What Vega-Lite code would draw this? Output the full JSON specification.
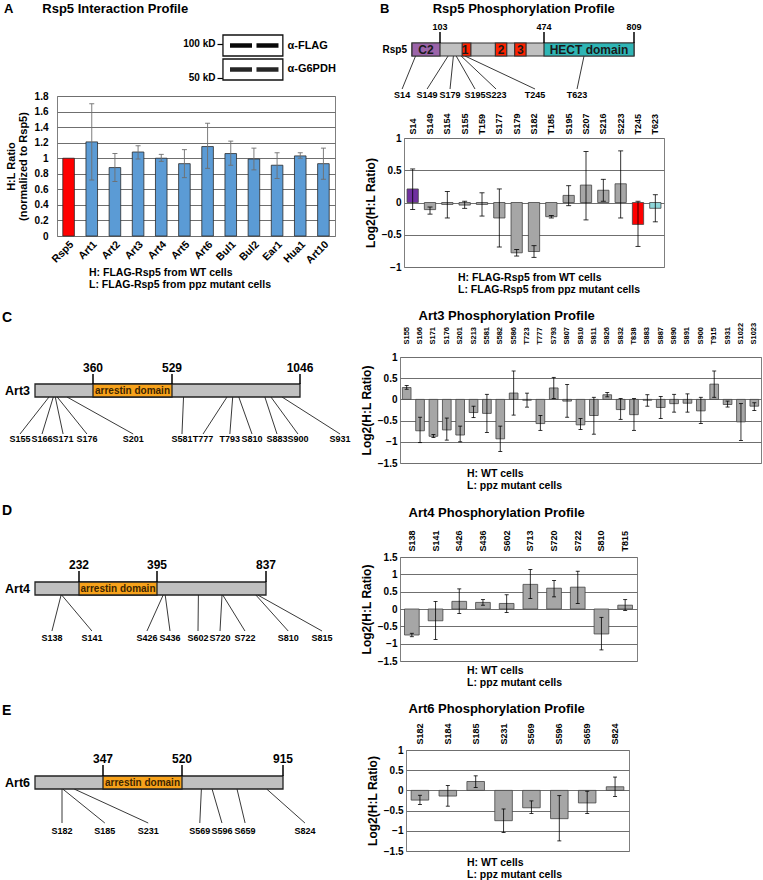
{
"$schema": "https://vega.github.io/schema/vega-lite/v6.json",
"background": "white",
"padding": {"left": 2, "top": 3, "right": 0, "bottom": 0},
"spacing": 12,
"datasets": {
"interaction": [
{"protein":"Rsp5","ratio":1.0},
{"protein":"Art1","ratio":1.21,"lo":0.72,"hi":1.70},
{"protein":"Art2","ratio":0.88,"lo":0.70,"hi":1.06},
{"protein":"Art3","ratio":1.08,"lo":0.99,"hi":1.16},
{"protein":"Art4","ratio":1.00,"lo":0.96,"hi":1.05},
{"protein":"Art5","ratio":0.93,"lo":0.75,"hi":1.11},
{"protein":"Art6","ratio":1.15,"lo":0.87,"hi":1.45},
{"protein":"Bul1","ratio":1.06,"lo":0.91,"hi":1.22},
{"protein":"Bul2","ratio":0.99,"lo":0.85,"hi":1.13},
{"protein":"Ear1","ratio":0.91,"lo":0.74,"hi":1.07},
{"protein":"Hua1","ratio":1.03,"lo":1.00,"hi":1.07},
{"protein":"Art10","ratio":0.93,"lo":0.73,"hi":1.13}
],
"blot": [
{"lane":"WT","lane_no":1,"antibody":"α-FLAG"},
{"lane":"ppz","lane_no":2,"antibody":"α-FLAG"},
{"lane":"WT","lane_no":1,"antibody":"α-G6PDH"},
{"lane":"ppz","lane_no":2,"antibody":"α-G6PDH"}
],
"markers": [{"kD":100},{"kD":50}],
"rsp5_domains": [
{"name":"Rsp5","start":1,"end":809,"kind":"protein"},
{"name":"C2","start":1,"end":103,"kind":"C2"},
{"name":"1","start":229,"end":262,"kind":"WW"},
{"name":"2","start":333,"end":366,"kind":"WW"},
{"name":"3","start":389,"end":422,"kind":"WW"},
{"name":"HECT domain","start":474,"end":809,"kind":"HECT"}
],
"rsp5_ticks": [{"aa":103},{"aa":474},{"aa":809}],
"rsp5_sites": [
{"site":"S14","aa":14,"label_at":-35},
{"site":"S149","aa":149,"label_at":56},
{"site":"S179","aa":179,"label_at":160},
{"site":"S195","aa":195,"label_at":274},
{"site":"S223","aa":223,"label_at":335},
{"site":"T245","aa":245,"label_at":448},
{"site":"T623","aa":623,"label_at":597}
],
"rsp5_phos": [
{"site":"S14","log2":0.21,"lo":-0.11,"hi":0.52,"region":"C2"},
{"site":"S149","log2":-0.11,"lo":-0.18,"hi":-0.07,"region":"linker"},
{"site":"S154","log2":-0.03,"lo":-0.24,"hi":0.17,"region":"linker"},
{"site":"S155","log2":-0.04,"lo":-0.09,"hi":0.02,"region":"linker"},
{"site":"T159","log2":-0.03,"lo":-0.21,"hi":0.15,"region":"linker"},
{"site":"S177","log2":-0.24,"lo":-0.69,"hi":0.21,"region":"linker"},
{"site":"S179","log2":-0.78,"lo":-0.83,"hi":-0.73,"region":"linker"},
{"site":"S182","log2":-0.76,"lo":-0.85,"hi":-0.67,"region":"linker"},
{"site":"T185","log2":-0.22,"lo":-0.24,"hi":-0.20,"region":"linker"},
{"site":"S195","log2":0.11,"lo":-0.05,"hi":0.26,"region":"linker"},
{"site":"S207","log2":0.27,"lo":-0.27,"hi":0.79,"region":"linker"},
{"site":"S216","log2":0.19,"lo":0.02,"hi":0.36,"region":"linker"},
{"site":"S223","log2":0.29,"lo":-0.24,"hi":0.80,"region":"linker"},
{"site":"T245","log2":-0.34,"lo":-0.68,"hi":0.02,"region":"WW"},
{"site":"T623","log2":-0.09,"lo":-0.30,"hi":0.12,"region":"HECT"}
],
"art3_domains": [
{"name":"Art3","start":1,"end":1046,"kind":"protein"},
{"name":"arrestin domain","start":360,"end":529,"kind":"arrestin"}
],
"art3_ticks": [{"aa":360},{"aa":529},{"aa":1046}],
"art3_sites": [
{"site":"S155","aa":155,"label_at":-164},
{"site":"S166","aa":166,"label_at":78},
{"site":"S171","aa":171,"label_at":191},
{"site":"S176","aa":176,"label_at":323},
{"site":"S201","aa":201,"label_at":446},
{"site":"S581","aa":581,"label_at":574},
{"site":"T777","aa":777,"label_at":669},
{"site":"T793","aa":793,"label_at":785},
{"site":"S810","aa":810,"label_at":847},
{"site":"S883","aa":883,"label_at":917},
{"site":"S900","aa":900,"label_at":1033},
{"site":"S931","aa":931,"label_at":1302}
],
"art3_phos": [
{"site":"S155","log2":0.28,"lo":0.24,"hi":0.33},
{"site":"S166","log2":-0.74,"lo":-1.02,"hi":-0.42},
{"site":"S171","log2":-0.87,"lo":-0.90,"hi":-0.83},
{"site":"S176","log2":-0.72,"lo":-0.96,"hi":-0.44},
{"site":"S201","log2":-0.84,"lo":-1.00,"hi":-0.63},
{"site":"S213","log2":-0.31,"lo":-0.43,"hi":-0.16},
{"site":"S581","log2":-0.33,"lo":-0.78,"hi":0.12},
{"site":"S582","log2":-0.93,"lo":-1.23,"hi":-0.63},
{"site":"S586","log2":0.15,"lo":-0.37,"hi":0.67},
{"site":"T723","log2":-0.02,"lo":-0.18,"hi":0.15},
{"site":"T777","log2":-0.57,"lo":-0.73,"hi":-0.38},
{"site":"S793","log2":0.27,"lo":0.02,"hi":0.52},
{"site":"S807","log2":-0.04,"lo":-0.42,"hi":0.35},
{"site":"S810","log2":-0.60,"lo":-0.71,"hi":-0.45},
{"site":"S811","log2":-0.38,"lo":-0.82,"hi":0.05},
{"site":"S826","log2":0.11,"lo":0.06,"hi":0.16},
{"site":"S832","log2":-0.24,"lo":-0.47,"hi":0.02},
{"site":"T838","log2":-0.36,"lo":-0.73,"hi":0.02},
{"site":"S883","log2":-0.02,"lo":-0.16,"hi":0.11},
{"site":"S887","log2":-0.19,"lo":-0.45,"hi":0.07},
{"site":"S890","log2":-0.10,"lo":-0.30,"hi":0.12},
{"site":"S891","log2":-0.09,"lo":-0.30,"hi":0.13},
{"site":"S900","log2":-0.27,"lo":-0.57,"hi":0.05},
{"site":"T915","log2":0.36,"lo":0.05,"hi":0.67},
{"site":"S931","log2":-0.12,"lo":-0.18,"hi":-0.04},
{"site":"S1022","log2":-0.53,"lo":-0.97,"hi":-0.10},
{"site":"S1023","log2":-0.16,"lo":-0.26,"hi":-0.08}
],
"art4_domains": [
{"name":"Art4","start":1,"end":837,"kind":"protein"},
{"name":"arrestin domain","start":232,"end":395,"kind":"arrestin"}
],
"art4_ticks": [{"aa":232},{"aa":395},{"aa":837}],
"art4_sites": [
{"site":"S138","aa":138,"label_at":90},
{"site":"S141","aa":141,"label_at":259},
{"site":"S426","aa":426,"label_at":374},
{"site":"S436","aa":436,"label_at":460},
{"site":"S602","aa":602,"label_at":600},
{"site":"S720","aa":720,"label_at":710},
{"site":"S722","aa":722,"label_at":781},
{"site":"S810","aa":810,"label_at":896},
{"site":"S815","aa":815,"label_at":986}
],
"art4_phos": [
{"site":"S138","log2":-0.75,"lo":-0.80,"hi":-0.70},
{"site":"S141","log2":-0.34,"lo":-0.88,"hi":0.22},
{"site":"S426","log2":0.22,"lo":-0.13,"hi":0.58},
{"site":"S436","log2":0.19,"lo":0.11,"hi":0.27},
{"site":"S602","log2":0.16,"lo":-0.10,"hi":0.41},
{"site":"S713","log2":0.71,"lo":0.30,"hi":1.14},
{"site":"S720","log2":0.60,"lo":0.35,"hi":0.82},
{"site":"S722","log2":0.63,"lo":0.16,"hi":1.09},
{"site":"S810","log2":-0.72,"lo":-1.18,"hi":-0.24},
{"site":"T815","log2":0.11,"lo":-0.04,"hi":0.27}
],
"art6_domains": [
{"name":"Art6","start":1,"end":915,"kind":"protein"},
{"name":"arrestin domain","start":347,"end":520,"kind":"arrestin"}
],
"art6_ticks": [{"aa":347},{"aa":520},{"aa":915}],
"art6_sites": [
{"site":"S182","aa":182,"label_at":182},
{"site":"S185","aa":185,"label_at":351},
{"site":"S231","aa":231,"label_at":446},
{"site":"S569","aa":569,"label_at":565},
{"site":"S596","aa":596,"label_at":621},
{"site":"S659","aa":659,"label_at":704},
{"site":"S824","aa":824,"label_at":1037}
],
"art6_phos": [
{"site":"S182","log2":-0.24,"lo":-0.35,"hi":-0.12},
{"site":"S184","log2":-0.14,"lo":-0.39,"hi":0.12},
{"site":"S185","log2":0.22,"lo":0.07,"hi":0.36},
{"site":"S231","log2":-0.75,"lo":-1.04,"hi":-0.46},
{"site":"S569","log2":-0.43,"lo":-0.57,"hi":-0.26},
{"site":"S596","log2":-0.70,"lo":-1.25,"hi":-0.13},
{"site":"S659","log2":-0.31,"lo":-0.57,"hi":-0.02},
{"site":"S824","log2":0.09,"lo":-0.15,"hi":0.33}
]
},
"vconcat": [
{"hconcat": [
 {"vconcat": [
  {"width": 278, "height": 70,
   "view": {"stroke": null},
   "title": {"text": "A\u00a0\u00a0\u00a0\u00a0\u00a0\u00a0\u00a0\u00a0Rsp5 Interaction Profile", "anchor": "start", "frame": "group", "dx": -53, "fontSize": 13, "offset": 4},
   "resolve": {"scale": {"y": "independent"}, "axis": {"y": "independent"}},
   "layer": [
    {"data": {"name": "blot"}, "transform": [{"filter": "datum.lane_no == 1"}],
     "mark": {"type": "rect", "fill": "white", "stroke": "#111", "strokeWidth": 1.3},
     "encoding": {
      "x": {"datum": 0.32, "type": "quantitative", "scale": {"domain": [-5.943, 4.548], "nice": false, "zero": false}, "axis": null},
      "x2": {"datum": 2.58},
      "y": {"field": "antibody", "type": "nominal", "sort": null, "scale": {"domain": ["α-FLAG","α-G6PDH"], "paddingInner": 0.125, "paddingOuter": 0.521, "align": 0.6}, "axis": {"orient": "right", "offset": -52, "labelPadding": 4, "labelFontSize": 11, "title": null, "grid": false}}}},
    {"data": {"name": "blot"},
     "mark": {"type": "tick", "orient": "horizontal", "size": 22, "thickness": 4.5, "opacity": 1},
     "encoding": {
      "x": {"field": "lane_no", "type": "quantitative", "scale": {"domain": [-5.943, 4.548], "nice": false, "zero": false}, "axis": {"orient": "top", "values": [1, 2], "labelExpr": "datum.value == 1 ? 'WT' : 'ppz'", "labelFontStyle": {"condition": {"test": "datum.value == 2", "value": "italic"}, "value": "normal"}, "labelFontSize": 13, "labelPadding": 2, "offset": -15, "grid": false, "title": null}},
      "y": {"field": "antibody", "type": "nominal", "sort": null, "scale": {"domain": ["α-FLAG","α-G6PDH"], "paddingInner": 0.125, "paddingOuter": 0.521, "align": 0.6}, "axis": null},
      "color": {"condition": {"test": "datum.antibody == 'α-FLAG'", "value": "#080808"}, "value": "#262626"}}},
    {"data": {"name": "markers"},
     "mark": {"type": "point", "opacity": 0},
     "encoding": {
      "y": {"field": "kD", "type": "quantitative", "scale": {"type": "log", "domain": [39.14, 163.1], "nice": false}, "axis": {"orient": "left", "offset": -166, "values": [100, 50], "labelExpr": "datum.value + ' kD'", "ticks": true, "tickSize": 6, "tickColor": "#000", "tickWidth": 1.2, "labelFontSize": 10, "labelPadding": 2, "grid": false, "title": null}}}}
   ]},
  {"width": 278, "height": 140,
   "data": {"name": "interaction"},
   "title": {"text": ["H: FLAG-Rsp5 from WT cells", "L: FLAG-Rsp5 from ppz mutant cells"], "orient": "bottom", "anchor": "start", "frame": "group", "dx": 32, "fontSize": 10.5, "lineHeight": 12, "offset": 3},
   "encoding": {"x": {"field": "protein", "type": "nominal", "sort": null, "scale": {"paddingInner": 0.5}, "axis": {"labelAngle": -45, "labelFontSize": 10.5, "labelPadding": 3, "title": null}}},
   "layer": [
    {"mark": {"type": "bar", "stroke": "#2b2b2b", "strokeWidth": 0.8},
     "encoding": {
      "y": {"field": "ratio", "type": "quantitative", "scale": {"domain": [0, 1.8], "nice": false, "zero": false}, "axis": {"values": [0,0.2,0.4,0.6,0.8,1,1.2,1.4,1.6,1.8], "format": ".1~f", "labelOverlap": false, "grid": true, "labelFontSize": 10, "labelPadding": 9, "title": ["H:L Ratio", "(normalized to Rsp5)"], "titleFontSize": 11, "titleLineHeight": 12, "titlePadding": 6}},
      "color": {"condition": {"test": "datum.protein == 'Rsp5'", "value": "#ff0000"}, "value": "#5b9bd5"}}},
    {"mark": {"type": "rule", "color": "#6e6e6e", "strokeWidth": 0.9},
     "encoding": {"y": {"field": "lo", "type": "quantitative", "scale": {"domain": [0, 1.8], "nice": false, "zero": false}, "axis": {"values": [0,0.2,0.4,0.6,0.8,1,1.2,1.4,1.6,1.8], "format": ".1~f", "labelOverlap": false, "grid": true, "labelFontSize": 10, "labelPadding": 9, "title": ["H:L Ratio", "(normalized to Rsp5)"], "titleFontSize": 11, "titleLineHeight": 12, "titlePadding": 6}}, "y2": {"field": "hi"}}},
    {"mark": {"type": "tick", "orient": "horizontal", "color": "#6e6e6e", "thickness": 0.9, "size": 5, "opacity": 1},
     "encoding": {"y": {"field": "lo", "type": "quantitative", "scale": {"domain": [0, 1.8], "nice": false, "zero": false}, "axis": {"values": [0,0.2,0.4,0.6,0.8,1,1.2,1.4,1.6,1.8], "format": ".1~f", "labelOverlap": false, "grid": true, "labelFontSize": 10, "labelPadding": 9, "title": ["H:L Ratio", "(normalized to Rsp5)"], "titleFontSize": 11, "titleLineHeight": 12, "titlePadding": 6}}}},
    {"mark": {"type": "tick", "orient": "horizontal", "color": "#6e6e6e", "thickness": 0.9, "size": 5, "opacity": 1},
     "encoding": {"y": {"field": "hi", "type": "quantitative", "scale": {"domain": [0, 1.8], "nice": false, "zero": false}, "axis": {"values": [0,0.2,0.4,0.6,0.8,1,1.2,1.4,1.6,1.8], "format": ".1~f", "labelOverlap": false, "grid": true, "labelFontSize": 10, "labelPadding": 9, "title": ["H:L Ratio", "(normalized to Rsp5)"], "titleFontSize": 11, "titleLineHeight": 12, "titlePadding": 6}}}}
   ]}
 ], "spacing": 0},
 {"vconcat": [
  {"width": 260, "height": 92,
   "view": {"stroke": null},
   "title": {"text": "B\u00a0\u00a0\u00a0\u00a0\u00a0\u00a0\u00a0\u00a0\u00a0\u00a0\u00a0\u00a0Rsp5 Phosphorylation Profile", "anchor": "start", "frame": "group", "dx": -24, "fontSize": 13, "offset": 4},
   "layer": [
    {"data": {"name": "rsp5_sites"}, "mark": {"type": "rule", "color": "#222", "strokeWidth": 0.9},
     "encoding": {
      "x": {"field": "aa", "type": "quantitative", "scale": {"domain": [1,103,245,474,809], "range": [8,36,61,140,230], "nice": false, "zero": false}, "axis": null},
      "x2": {"field": "label_at"},
      "y": {"datum": 36, "type": "quantitative", "scale": {"domain": [0, 92], "range": [0, 92], "nice": false, "zero": false}, "axis": null},
      "y2": {"datum": 69}}},
    {"data": {"name": "rsp5_sites"}, "mark": {"type": "text", "fontSize": 9, "fontWeight": "bold", "color": "#000"},
     "encoding": {"x": {"field": "label_at", "type": "quantitative"}, "y": {"datum": 75, "type": "quantitative"}, "text": {"field": "site"}}},
    {"data": {"name": "rsp5_domains"}, "mark": {"type": "rect", "stroke": "#333", "strokeWidth": 1.2},
     "encoding": {"x": {"field": "start", "type": "quantitative"}, "x2": {"field": "end"}, "y": {"datum": 23, "type": "quantitative"}, "y2": {"datum": 36},
      "fill": {"condition": [{"test": "datum.kind == 'C2'", "value": "#9b64a9"}, {"test": "datum.kind == 'WW'", "value": "#ff2200"}, {"test": "datum.kind == 'HECT'", "value": "#2fb5b5"}], "value": "#c0c0c0"}}},
    {"data": {"name": "rsp5_domains"}, "transform": [{"filter": "datum.kind != 'protein'"}, {"fold": ["start","end"], "as": ["edge","pos"]}],
     "mark": {"type": "text", "fontSize": 12, "fontWeight": "bold", "color": "#1a1a1a"},
     "encoding": {"x": {"field": "pos", "aggregate": "mean", "type": "quantitative"}, "y": {"datum": 29.5, "type": "quantitative"}, "text": {"field": "name"}}},
    {"data": {"name": "rsp5_domains"}, "transform": [{"filter": "datum.kind == 'protein'"}],
     "mark": {"type": "text", "align": "right", "dx": -5, "fontSize": 10, "fontWeight": "bold", "color": "#000"},
     "encoding": {"x": {"field": "start", "type": "quantitative"}, "y": {"datum": 29.5, "type": "quantitative"}, "text": {"field": "name"}}},
    {"data": {"name": "rsp5_ticks"}, "mark": {"type": "rule", "color": "#000", "strokeWidth": 1.5},
     "encoding": {"x": {"field": "aa", "type": "quantitative"}, "y": {"datum": 12, "type": "quantitative"}, "y2": {"datum": 23}}},
    {"data": {"name": "rsp5_ticks"}, "mark": {"type": "text", "fontSize": 9, "fontWeight": "bold", "color": "#000"},
     "encoding": {"x": {"field": "aa", "type": "quantitative"}, "y": {"datum": 7, "type": "quantitative"}, "text": {"field": "aa", "type": "nominal"}}}
   ]},
  {"width": 260, "height": 129,
   "data": {"name": "rsp5_phos"},
   "title": {"text": ["H: FLAG-Rsp5 from WT cells", "L: FLAG-Rsp5 from ppz mutant cells"], "orient": "bottom", "anchor": "start", "frame": "group", "dx": 54, "fontSize": 10.5, "lineHeight": 12, "offset": 1},
   "encoding": {"x": {"field": "site", "type": "nominal", "sort": null, "scale": {"paddingInner": 0.35}, "axis": {"orient": "top", "labelAngle": -90, "labelFontSize": 9, "labelPadding": 4, "title": null}}},
   "layer": [
    {"mark": {"type": "bar", "stroke": "#444", "strokeWidth": 0.8},
     "encoding": {
      "y": {"field": "log2", "type": "quantitative", "scale": {"domain": [-1, 1], "nice": false, "zero": false}, "axis": {"values": [-1,-0.5,0,0.5,1], "format": ".1~f", "labelOverlap": false, "grid": true, "labelFontSize": 10, "labelPadding": 3, "title": "Log2(H:L Ratio)", "titleFontSize": 12, "titlePadding": 4}},
      "fill": {"condition": [{"test": "datum.region == 'C2'", "value": "#7030a0"}, {"test": "datum.region == 'WW'", "value": "#ff0000"}, {"test": "datum.region == 'HECT'", "value": "#8ed6da"}], "value": "#a6a6a6"}}},
    {"mark": {"type": "rule", "color": "#000", "strokeWidth": 0.8},
     "encoding": {"y": {"field": "lo", "type": "quantitative", "scale": {"domain": [-1, 1], "nice": false, "zero": false}, "axis": {"values": [-1,-0.5,0,0.5,1], "format": ".1~f", "labelOverlap": false, "grid": true, "labelFontSize": 10, "labelPadding": 3, "title": "Log2(H:L Ratio)", "titleFontSize": 12, "titlePadding": 4}}, "y2": {"field": "hi"}}},
    {"mark": {"type": "tick", "orient": "horizontal", "color": "#000", "thickness": 0.8, "size": 5, "opacity": 1},
     "encoding": {"y": {"field": "lo", "type": "quantitative", "scale": {"domain": [-1, 1], "nice": false, "zero": false}, "axis": {"values": [-1,-0.5,0,0.5,1], "format": ".1~f", "labelOverlap": false, "grid": true, "labelFontSize": 10, "labelPadding": 3, "title": "Log2(H:L Ratio)", "titleFontSize": 12, "titlePadding": 4}}}},
    {"mark": {"type": "tick", "orient": "horizontal", "color": "#000", "thickness": 0.8, "size": 5, "opacity": 1},
     "encoding": {"y": {"field": "hi", "type": "quantitative", "scale": {"domain": [-1, 1], "nice": false, "zero": false}, "axis": {"values": [-1,-0.5,0,0.5,1], "format": ".1~f", "labelOverlap": false, "grid": true, "labelFontSize": 10, "labelPadding": 3, "title": "Log2(H:L Ratio)", "titleFontSize": 12, "titlePadding": 4}}}}
   ]}
 ], "spacing": 0}
], "spacing": 27},
{"hconcat": [
 {"width": 302, "height": 133,
  "view": {"stroke": null},
  "layer": [
   {"data": {"name": "art3_sites"}, "mark": {"type": "rule", "color": "#222", "strokeWidth": 0.9},
    "encoding": {
     "x": {"field": "aa", "type": "quantitative", "scale": {"domain": [1,155,201,360,529,777,931,1046], "range": [-22,-8,10,36,115,170,225,243], "nice": false, "zero": false}, "axis": null},
     "x2": {"field": "label_at"},
     "y": {"datum": 40, "type": "quantitative", "scale": {"domain": [0, 133], "range": [0, 133], "nice": false, "zero": false}, "axis": null},
     "y2": {"datum": 77}}},
   {"data": {"name": "art3_sites"}, "mark": {"type": "text", "fontSize": 9, "fontWeight": "bold", "color": "#000"},
    "encoding": {"x": {"field": "label_at", "type": "quantitative"}, "y": {"datum": 82, "type": "quantitative"}, "text": {"field": "site"}}},
   {"data": {"name": "art3_domains"}, "mark": {"type": "rect", "stroke": "#222", "strokeWidth": 1.3},
    "encoding": {"x": {"field": "start", "type": "quantitative"}, "x2": {"field": "end"}, "y": {"datum": 27, "type": "quantitative"}, "y2": {"datum": 40},
     "fill": {"condition": {"test": "datum.kind == 'arrestin'", "value": "#f7a21b"}, "value": "#c0c0c0"}}},
   {"data": {"name": "art3_domains"}, "transform": [{"filter": "datum.kind == 'arrestin'"}, {"fold": ["start","end"], "as": ["edge","pos"]}],
    "mark": {"type": "text", "fontSize": 10, "fontWeight": "bold", "color": "#3d2500"},
    "encoding": {"x": {"field": "pos", "aggregate": "mean", "type": "quantitative"}, "y": {"datum": 33.5, "type": "quantitative"}, "text": {"field": "name"}}},
   {"data": {"name": "art3_domains"}, "transform": [{"filter": "datum.kind == 'protein'"}],
    "mark": {"type": "text", "align": "right", "dx": -5, "fontSize": 12.5, "fontWeight": "bold", "color": "#000"},
    "encoding": {"x": {"field": "start", "type": "quantitative"}, "y": {"datum": 33.5, "type": "quantitative"}, "text": {"field": "name"}}},
   {"data": {"name": "art3_domains"}, "transform": [{"filter": "datum.kind == 'protein'"}],
    "mark": {"type": "text", "align": "left", "dx": -33, "fontSize": 14, "fontWeight": "bold", "color": "#000"},
    "encoding": {"x": {"field": "start", "type": "quantitative"}, "y": {"datum": -39, "type": "quantitative"}, "text": {"value": "C"}}},
   {"data": {"name": "art3_ticks"}, "mark": {"type": "rule", "color": "#000", "strokeWidth": 1.5},
    "encoding": {"x": {"field": "aa", "type": "quantitative"}, "y": {"datum": 17, "type": "quantitative"}, "y2": {"datum": 27}}},
   {"data": {"name": "art3_ticks"}, "mark": {"type": "text", "fontSize": 12, "fontWeight": "bold", "color": "#000"},
    "encoding": {"x": {"field": "aa", "type": "quantitative"}, "y": {"datum": 11, "type": "quantitative"}, "text": {"field": "aa", "type": "nominal"}}}
  ]},
 {"width": 361, "height": 106,
  "data": {"name": "art3_phos"},
  "title": {"text": ["H: WT cells", "L: ppz mutant cells"], "orient": "bottom", "anchor": "start", "frame": "group", "dx": 67, "fontSize": 10.5, "lineHeight": 12, "offset": 1},
  "encoding": {"x": {"field": "site", "type": "nominal", "sort": null, "scale": {"paddingInner": 0.35}, "axis": {"orient": "top", "labelAngle": -90, "labelFontSize": 7.5, "labelPadding": 13, "title": "Art3 Phosphorylation Profile", "titleFontSize": 13, "titleAnchor": "start", "titleAlign": "left", "titleX": 18, "titlePadding": 0}}},
  "layer": [
   {"mark": {"type": "bar", "fill": "#a6a6a6", "stroke": "#444", "strokeWidth": 0.8},
    "encoding": {"y": {"field": "log2", "type": "quantitative", "scale": {"domain": [-1.5, 1], "nice": false, "zero": false}, "axis": {"values": [-1.5,-1,-0.5,0,0.5,1], "format": ".1~f", "labelOverlap": false, "grid": true, "labelFontSize": 10, "labelPadding": 3, "title": "Log2(H:L Ratio)", "titleFontSize": 12, "titlePadding": 4}}}},
   {"mark": {"type": "rule", "color": "#000", "strokeWidth": 0.8},
    "encoding": {"y": {"field": "lo", "type": "quantitative", "scale": {"domain": [-1.5, 1], "nice": false, "zero": false}, "axis": {"values": [-1.5,-1,-0.5,0,0.5,1], "format": ".1~f", "labelOverlap": false, "grid": true, "labelFontSize": 10, "labelPadding": 3, "title": "Log2(H:L Ratio)", "titleFontSize": 12, "titlePadding": 4}}, "y2": {"field": "hi"}}},
   {"mark": {"type": "tick", "orient": "horizontal", "color": "#000", "thickness": 0.8, "size": 4, "opacity": 1},
    "encoding": {"y": {"field": "lo", "type": "quantitative", "scale": {"domain": [-1.5, 1], "nice": false, "zero": false}, "axis": {"values": [-1.5,-1,-0.5,0,0.5,1], "format": ".1~f", "labelOverlap": false, "grid": true, "labelFontSize": 10, "labelPadding": 3, "title": "Log2(H:L Ratio)", "titleFontSize": 12, "titlePadding": 4}}}},
   {"mark": {"type": "tick", "orient": "horizontal", "color": "#000", "thickness": 0.8, "size": 4, "opacity": 1},
    "encoding": {"y": {"field": "hi", "type": "quantitative", "scale": {"domain": [-1.5, 1], "nice": false, "zero": false}, "axis": {"values": [-1.5,-1,-0.5,0,0.5,1], "format": ".1~f", "labelOverlap": false, "grid": true, "labelFontSize": 10, "labelPadding": 3, "title": "Log2(H:L Ratio)", "titleFontSize": 12, "titlePadding": 4}}}}
  ]}
], "spacing": 0},
{"hconcat": [
 {"width": 302, "height": 133,
  "view": {"stroke": null},
  "layer": [
   {"data": {"name": "art4_sites"}, "mark": {"type": "rule", "color": "#222", "strokeWidth": 0.9},
    "encoding": {
     "x": {"field": "aa", "type": "quantitative", "scale": {"domain": [1,232,395,720,837], "range": [-22,22,100,165,209], "nice": false, "zero": false}, "axis": null},
     "x2": {"field": "label_at"},
     "y": {"datum": 38, "type": "quantitative", "scale": {"domain": [0, 133], "range": [0, 133], "nice": false, "zero": false}, "axis": null},
     "y2": {"datum": 74}}},
   {"data": {"name": "art4_sites"}, "mark": {"type": "text", "fontSize": 9, "fontWeight": "bold", "color": "#000"},
    "encoding": {"x": {"field": "label_at", "type": "quantitative"}, "y": {"datum": 81, "type": "quantitative"}, "text": {"field": "site"}}},
   {"data": {"name": "art4_domains"}, "mark": {"type": "rect", "stroke": "#222", "strokeWidth": 1.3},
    "encoding": {"x": {"field": "start", "type": "quantitative"}, "x2": {"field": "end"}, "y": {"datum": 25, "type": "quantitative"}, "y2": {"datum": 38},
     "fill": {"condition": {"test": "datum.kind == 'arrestin'", "value": "#f7a21b"}, "value": "#c0c0c0"}}},
   {"data": {"name": "art4_domains"}, "transform": [{"filter": "datum.kind == 'arrestin'"}, {"fold": ["start","end"], "as": ["edge","pos"]}],
    "mark": {"type": "text", "fontSize": 10, "fontWeight": "bold", "color": "#3d2500"},
    "encoding": {"x": {"field": "pos", "aggregate": "mean", "type": "quantitative"}, "y": {"datum": 31.5, "type": "quantitative"}, "text": {"field": "name"}}},
   {"data": {"name": "art4_domains"}, "transform": [{"filter": "datum.kind == 'protein'"}],
    "mark": {"type": "text", "align": "right", "dx": -5, "fontSize": 12.5, "fontWeight": "bold", "color": "#000"},
    "encoding": {"x": {"field": "start", "type": "quantitative"}, "y": {"datum": 31.5, "type": "quantitative"}, "text": {"field": "name"}}},
   {"data": {"name": "art4_domains"}, "transform": [{"filter": "datum.kind == 'protein'"}],
    "mark": {"type": "text", "align": "left", "dx": -33, "fontSize": 14, "fontWeight": "bold", "color": "#000"},
    "encoding": {"x": {"field": "start", "type": "quantitative"}, "y": {"datum": -46, "type": "quantitative"}, "text": {"value": "D"}}},
   {"data": {"name": "art4_ticks"}, "mark": {"type": "rule", "color": "#000", "strokeWidth": 1.5},
    "encoding": {"x": {"field": "aa", "type": "quantitative"}, "y": {"datum": 14, "type": "quantitative"}, "y2": {"datum": 25}}},
   {"data": {"name": "art4_ticks"}, "mark": {"type": "text", "fontSize": 12, "fontWeight": "bold", "color": "#000"},
    "encoding": {"x": {"field": "aa", "type": "quantitative"}, "y": {"datum": 8, "type": "quantitative"}, "text": {"field": "aa", "type": "nominal"}}}
  ]},
 {"width": 237, "height": 104,
  "data": {"name": "art4_phos"},
  "title": {"text": ["H: WT cells", "L: ppz mutant cells"], "orient": "bottom", "anchor": "start", "frame": "group", "dx": 67, "fontSize": 10.5, "lineHeight": 12, "offset": 0},
  "encoding": {"x": {"field": "site", "type": "nominal", "sort": null, "scale": {"paddingInner": 0.38}, "axis": {"orient": "top", "labelAngle": -90, "labelFontSize": 9, "labelPadding": 6, "title": "Art4 Phosphorylation Profile", "titleFontSize": 13, "titleAnchor": "start", "titleAlign": "left", "titleX": 8, "titlePadding": 10}}},
  "layer": [
   {"mark": {"type": "bar", "fill": "#a6a6a6", "stroke": "#444", "strokeWidth": 0.8},
    "encoding": {"y": {"field": "log2", "type": "quantitative", "scale": {"domain": [-1.5, 1.5], "nice": false, "zero": false}, "axis": {"values": [-1.5,-1,-0.5,0,0.5,1,1.5], "format": ".1~f", "labelOverlap": false, "grid": true, "labelFontSize": 10, "labelPadding": 3, "title": "Log2(H:L Ratio)", "titleFontSize": 12, "titlePadding": 4}}}},
   {"mark": {"type": "rule", "color": "#000", "strokeWidth": 0.8},
    "encoding": {"y": {"field": "lo", "type": "quantitative", "scale": {"domain": [-1.5, 1.5], "nice": false, "zero": false}, "axis": {"values": [-1.5,-1,-0.5,0,0.5,1,1.5], "format": ".1~f", "labelOverlap": false, "grid": true, "labelFontSize": 10, "labelPadding": 3, "title": "Log2(H:L Ratio)", "titleFontSize": 12, "titlePadding": 4}}, "y2": {"field": "hi"}}},
   {"mark": {"type": "tick", "orient": "horizontal", "color": "#000", "thickness": 0.8, "size": 4, "opacity": 1},
    "encoding": {"y": {"field": "lo", "type": "quantitative", "scale": {"domain": [-1.5, 1.5], "nice": false, "zero": false}, "axis": {"values": [-1.5,-1,-0.5,0,0.5,1,1.5], "format": ".1~f", "labelOverlap": false, "grid": true, "labelFontSize": 10, "labelPadding": 3, "title": "Log2(H:L Ratio)", "titleFontSize": 12, "titlePadding": 4}}}},
   {"mark": {"type": "tick", "orient": "horizontal", "color": "#000", "thickness": 0.8, "size": 4, "opacity": 1},
    "encoding": {"y": {"field": "hi", "type": "quantitative", "scale": {"domain": [-1.5, 1.5], "nice": false, "zero": false}, "axis": {"values": [-1.5,-1,-0.5,0,0.5,1,1.5], "format": ".1~f", "labelOverlap": false, "grid": true, "labelFontSize": 10, "labelPadding": 3, "title": "Log2(H:L Ratio)", "titleFontSize": 12, "titlePadding": 4}}}}
  ]}
], "spacing": 0},
{"hconcat": [
 {"width": 308, "height": 101,
  "view": {"stroke": null},
  "layer": [
   {"data": {"name": "art6_sites"}, "mark": {"type": "rule", "color": "#222", "strokeWidth": 0.9},
    "encoding": {
     "x": {"field": "aa", "type": "quantitative", "scale": {"domain": [1,182,347,520,659,915], "range": [-22,5,46,125,180,226], "nice": false, "zero": false}, "axis": null},
     "x2": {"field": "label_at"},
     "y": {"datum": 39, "type": "quantitative", "scale": {"domain": [0, 101], "range": [0, 101], "nice": false, "zero": false}, "axis": null},
     "y2": {"datum": 73}}},
   {"data": {"name": "art6_sites"}, "mark": {"type": "text", "fontSize": 9, "fontWeight": "bold", "color": "#000"},
    "encoding": {"x": {"field": "label_at", "type": "quantitative"}, "y": {"datum": 81, "type": "quantitative"}, "text": {"field": "site"}}},
   {"data": {"name": "art6_domains"}, "mark": {"type": "rect", "stroke": "#222", "strokeWidth": 1.3},
    "encoding": {"x": {"field": "start", "type": "quantitative"}, "x2": {"field": "end"}, "y": {"datum": 26, "type": "quantitative"}, "y2": {"datum": 39},
     "fill": {"condition": {"test": "datum.kind == 'arrestin'", "value": "#f7a21b"}, "value": "#c0c0c0"}}},
   {"data": {"name": "art6_domains"}, "transform": [{"filter": "datum.kind == 'arrestin'"}, {"fold": ["start","end"], "as": ["edge","pos"]}],
    "mark": {"type": "text", "fontSize": 10, "fontWeight": "bold", "color": "#3d2500"},
    "encoding": {"x": {"field": "pos", "aggregate": "mean", "type": "quantitative"}, "y": {"datum": 32.5, "type": "quantitative"}, "text": {"field": "name"}}},
   {"data": {"name": "art6_domains"}, "transform": [{"filter": "datum.kind == 'protein'"}],
    "mark": {"type": "text", "align": "right", "dx": -5, "fontSize": 12.5, "fontWeight": "bold", "color": "#000"},
    "encoding": {"x": {"field": "start", "type": "quantitative"}, "y": {"datum": 32.5, "type": "quantitative"}, "text": {"field": "name"}}},
   {"data": {"name": "art6_domains"}, "transform": [{"filter": "datum.kind == 'protein'"}],
    "mark": {"type": "text", "align": "left", "dx": -33, "fontSize": 14, "fontWeight": "bold", "color": "#000"},
    "encoding": {"x": {"field": "start", "type": "quantitative"}, "y": {"datum": -39, "type": "quantitative"}, "text": {"value": "E"}}},
   {"data": {"name": "art6_ticks"}, "mark": {"type": "rule", "color": "#000", "strokeWidth": 1.5},
    "encoding": {"x": {"field": "aa", "type": "quantitative"}, "y": {"datum": 15, "type": "quantitative"}, "y2": {"datum": 26}}},
   {"data": {"name": "art6_ticks"}, "mark": {"type": "text", "fontSize": 12, "fontWeight": "bold", "color": "#000"},
    "encoding": {"x": {"field": "aa", "type": "quantitative"}, "y": {"datum": 9, "type": "quantitative"}, "text": {"field": "aa", "type": "nominal"}}}
  ]},
 {"width": 223, "height": 101,
  "data": {"name": "art6_phos"},
  "title": {"text": ["H: WT cells", "L: ppz mutant cells"], "orient": "bottom", "anchor": "start", "frame": "group", "dx": 61, "fontSize": 10.5, "lineHeight": 12, "offset": 2},
  "encoding": {"x": {"field": "site", "type": "nominal", "sort": null, "scale": {"paddingInner": 0.37}, "axis": {"orient": "top", "labelAngle": -90, "labelFontSize": 9, "labelPadding": 6, "title": "Art6 Phosphorylation Profile", "titleFontSize": 13, "titleAnchor": "start", "titleAlign": "left", "titleX": 2, "titlePadding": 7}}},
  "layer": [
   {"mark": {"type": "bar", "fill": "#a6a6a6", "stroke": "#444", "strokeWidth": 0.8},
    "encoding": {"y": {"field": "log2", "type": "quantitative", "scale": {"domain": [-1.5, 1], "nice": false, "zero": false}, "axis": {"values": [-1.5,-1,-0.5,0,0.5,1], "format": ".1~f", "labelOverlap": false, "grid": true, "labelFontSize": 10, "labelPadding": 3, "title": "Log2(H:L Ratio)", "titleFontSize": 12, "titlePadding": 4}}}},
   {"mark": {"type": "rule", "color": "#000", "strokeWidth": 0.8},
    "encoding": {"y": {"field": "lo", "type": "quantitative", "scale": {"domain": [-1.5, 1], "nice": false, "zero": false}, "axis": {"values": [-1.5,-1,-0.5,0,0.5,1], "format": ".1~f", "labelOverlap": false, "grid": true, "labelFontSize": 10, "labelPadding": 3, "title": "Log2(H:L Ratio)", "titleFontSize": 12, "titlePadding": 4}}, "y2": {"field": "hi"}}},
   {"mark": {"type": "tick", "orient": "horizontal", "color": "#000", "thickness": 0.8, "size": 4, "opacity": 1},
    "encoding": {"y": {"field": "lo", "type": "quantitative", "scale": {"domain": [-1.5, 1], "nice": false, "zero": false}, "axis": {"values": [-1.5,-1,-0.5,0,0.5,1], "format": ".1~f", "labelOverlap": false, "grid": true, "labelFontSize": 10, "labelPadding": 3, "title": "Log2(H:L Ratio)", "titleFontSize": 12, "titlePadding": 4}}}},
   {"mark": {"type": "tick", "orient": "horizontal", "color": "#000", "thickness": 0.8, "size": 4, "opacity": 1},
    "encoding": {"y": {"field": "hi", "type": "quantitative", "scale": {"domain": [-1.5, 1], "nice": false, "zero": false}, "axis": {"values": [-1.5,-1,-0.5,0,0.5,1], "format": ".1~f", "labelOverlap": false, "grid": true, "labelFontSize": 10, "labelPadding": 3, "title": "Log2(H:L Ratio)", "titleFontSize": 12, "titlePadding": 4}}}}
  ]}
], "spacing": 0}
],
"config": {
 "font": "Liberation Sans",
 "view": {"stroke": "#7f7f7f", "strokeWidth": 1},
 "concat": {"spacing": 0},
 "axis": {"labelFontWeight": "bold", "titleFontWeight": "bold", "labelColor": "#000", "titleColor": "#000", "ticks": false, "domain": false, "gridColor": "#6f6f6f", "gridOpacity": 1, "gridWidth": 1},
 "title": {"fontWeight": "bold", "color": "#000"}
}
}
